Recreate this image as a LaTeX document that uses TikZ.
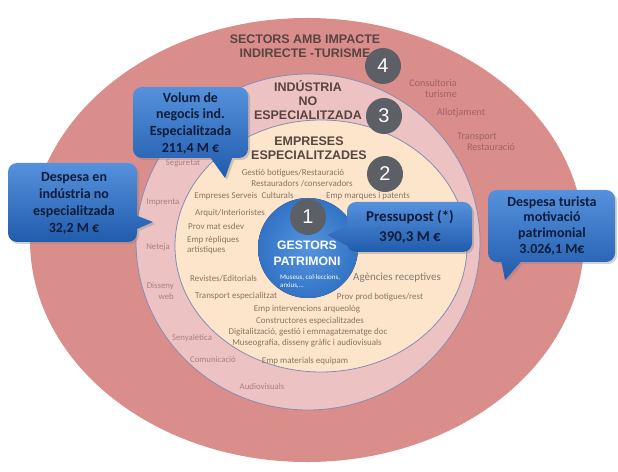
\documentclass[tikz,border=0pt]{standalone}
\usepackage{fontspec}
\setmainfont{Carlito}
\newfontfamily\ars{Liberation Sans}
\usetikzlibrary{shadows}
\definecolor{ringfour}{RGB}{218,142,140}
\definecolor{ringthree}{RGB}{236,194,194}
\definecolor{ringtwo}{RGB}{252,229,203}
\definecolor{ringline}{RGB}{135,140,178}
\definecolor{coreA}{RGB}{85,148,222}
\definecolor{coreB}{RGB}{50,115,198}
\definecolor{badgec}{RGB}{92,96,102}
\definecolor{calltop}{RGB}{85,145,220}
\definecolor{callbot}{RGB}{32,92,172}
\definecolor{calltext}{RGB}{14,28,58}
\definecolor{titletext}{RGB}{88,68,64}
\definecolor{twotext}{RGB}{140,116,96}
\definecolor{threetext}{RGB}{170,128,128}
\definecolor{fourtext}{RGB}{160,98,98}
\definecolor{agtext}{RGB}{135,122,112}
\tikzset{
  ttl/.style={font=\ars\bfseries\fontsize{12.5}{14}\selectfont, text=titletext, align=center, inner sep=0},
  twot/.style={font=\fontsize{9}{10}\selectfont, text=twotext, inner sep=0},
  threet/.style={font=\fontsize{8.8}{11}\selectfont, text=threetext, inner sep=0, align=center},
  fourt/.style={font=\fontsize{10.2}{12}\selectfont, text=fourtext, inner sep=0},
  badge/.style={circle, fill=badgec, text=white, minimum size=36bp, inner sep=0, font=\ars\fontsize{20}{20}\selectfont},
  callbox/.style={top color=calltop, bottom color=callbot, draw=none,
     drop shadow={opacity=0.35, shadow xshift=2bp, shadow yshift=-2bp}},
  calltxt/.style={font=\bfseries\fontsize{14}{17}\selectfont, text=calltext, align=center, inner sep=0},
}
\begin{document}
\begin{tikzpicture}[x=1bp,y=-1bp]
\useasboundingbox (0,0) rectangle (618,472);
\fill[white] (0,0) rectangle (618,472);
% rings
\fill[ringfour] (307,240) ellipse [x radius=277bp, y radius=222bp];
\filldraw[fill=ringthree, draw=ringline, line width=0.8bp] (308,242) ellipse [x radius=172bp, y radius=168bp];
\filldraw[fill=ringtwo, draw=ringline, line width=0.8bp] (321,246) ellipse [x radius=146bp, y radius=126bp];
% titles
\node[ttl] (t4) at (305,46) {SECTORS AMB IMPACTE\\INDIRECTE -TURISME};
\node[ttl] (t3) at (308,100) {INDÚSTRIA\\NO\\ESPECIALITZADA};
\node[ttl] (t2) at (309,148.5) {EMPRESES\\ESPECIALITZADES};
% ring 4 texts
\node[fourt] (c1) at (433,83) {Consultoria};
\node[fourt] (c2) at (441,94) {turisme};
\node[fourt] (c3) at (461,113) {Allotjament};
\node[fourt] (c4) at (477,137) {Transport};
\node[fourt] (c5) at (491,147) {Restauració};
% ring 3 texts
\node[threet] (s1) at (183,163) {Seguretat};
\node[threet] (s2) at (163,202) {Imprenta};
\node[threet] (s3) at (158,247) {Neteja};
\node[threet, align=right, anchor=east] (s4) at (174,291) {Disseny\\web};
\node[threet] (s5) at (192,338) {Senyalètica};
\node[threet] (s6) at (213,360) {Comunicació};
\node[threet] (s7) at (262,386) {Audiovisuals};
% ring 2 texts
\node[twot] (e1) at (293,173) {Gestió botigues/Restauració};
\node[twot] (e2) at (302,184) {Restauradors /conservadors};
\node[twot] (e3) at (244,196) {Empreses Serveis\ \ Culturals};
\node[twot] (e4) at (368,196) {Emp marques i patents};
\node[twot, anchor=west] (e5) at (195,213) {Arquit/Interioristes};
\node[twot, anchor=west] (e6) at (188,226) {Prov mat esdev};
\node[twot, anchor=west, align=left] (e7) at (187,245) {Emp rèpliques\\artístiques};
\node[twot, anchor=west] (e8) at (190,279) {Revistes/Editorials};
\node[twot, anchor=west] (e9) at (195,296) {Transport especialitzat};
\node[twot] (e10) at (380,297) {Prov prod botigues/rest};
\node[twot] (e11) at (307,309) {Emp intervencions arqueològ};
\node[twot] (e12) at (310,321) {Constructores especialitzades};
\node[twot] (e13) at (308,332) {Digitalització, gestió i emmagatzematge doc};
\node[twot] (e14) at (307,343) {Museografia, disseny gràfic i audiovisuals};
\node[twot] (e15) at (305,361) {Emp materials equipam};
\node[font=\fontsize{11}{12}\selectfont, text=agtext, inner sep=0] (ag) at (397,278) {Agències receptives};
% core
\fill[inner color=coreA, outer color=coreB] (308,248) circle [radius=50bp];
\node[font=\ars\bfseries\fontsize{12.3}{16.5}\selectfont, text=white, align=center, inner sep=0] (g) at (307,253.5) {GESTORS\\PATRIMONI};
\node[font=\fontsize{7}{8.5}\selectfont, text=white, align=left, anchor=west, inner sep=0] (gm) at (280,281.5) {Museus, col·leccions,\\arxius,...};
% badges
\node[badge] (b4) at (383,66) {4};
\node[badge] (b3) at (384,116) {3};
\node[badge] (b2) at (385,174) {2};
\node[badge] (b1) at (308,217) {1};
% callouts
\path[callbox, rounded corners=9bp] (133,87) -- (248,87) -- (248,158) -- (133,158) -- cycle
   [sharp corners] (205,150) -- (235,150) -- (225,178) -- cycle;
\node[calltxt] (v) at (190.5,123.5) {Volum de\\negocis ind.\\Especialitzada\\211,4 M €};
\path[callbox, rounded corners=9bp] (8,163) -- (137,163) -- (137,242) -- (8,242) -- cycle
   [sharp corners] (130,213) -- (153,222) -- (130,232) -- cycle;
\node[calltxt] (d) at (74,203.5) {Despesa en\\indústria no\\especialitzada\\32,2 M €};
\path[callbox, rounded corners=9bp] (488,190) -- (615,190) -- (615,262) -- (488,262) -- cycle
   [sharp corners] (500,255) -- (527,255) -- (505,280) -- cycle;
\node[calltxt, font=\bfseries\fontsize{14}{16}\selectfont] (tu) at (552,226) {Despesa turista\\motivació\\patrimonial\\3.026,1 M€};
\path[callbox, rounded corners=9bp] (347,202) -- (472,202) -- (472,252) -- (347,252) -- cycle
   [sharp corners] (355,250) -- (327,235) -- (355,222) -- cycle;
\node[calltxt, font=\bfseries\fontsize{15}{20}\selectfont] (p) at (410,227) {Pressupost (*)\\390,3 M €};
\end{tikzpicture}
\end{document}
